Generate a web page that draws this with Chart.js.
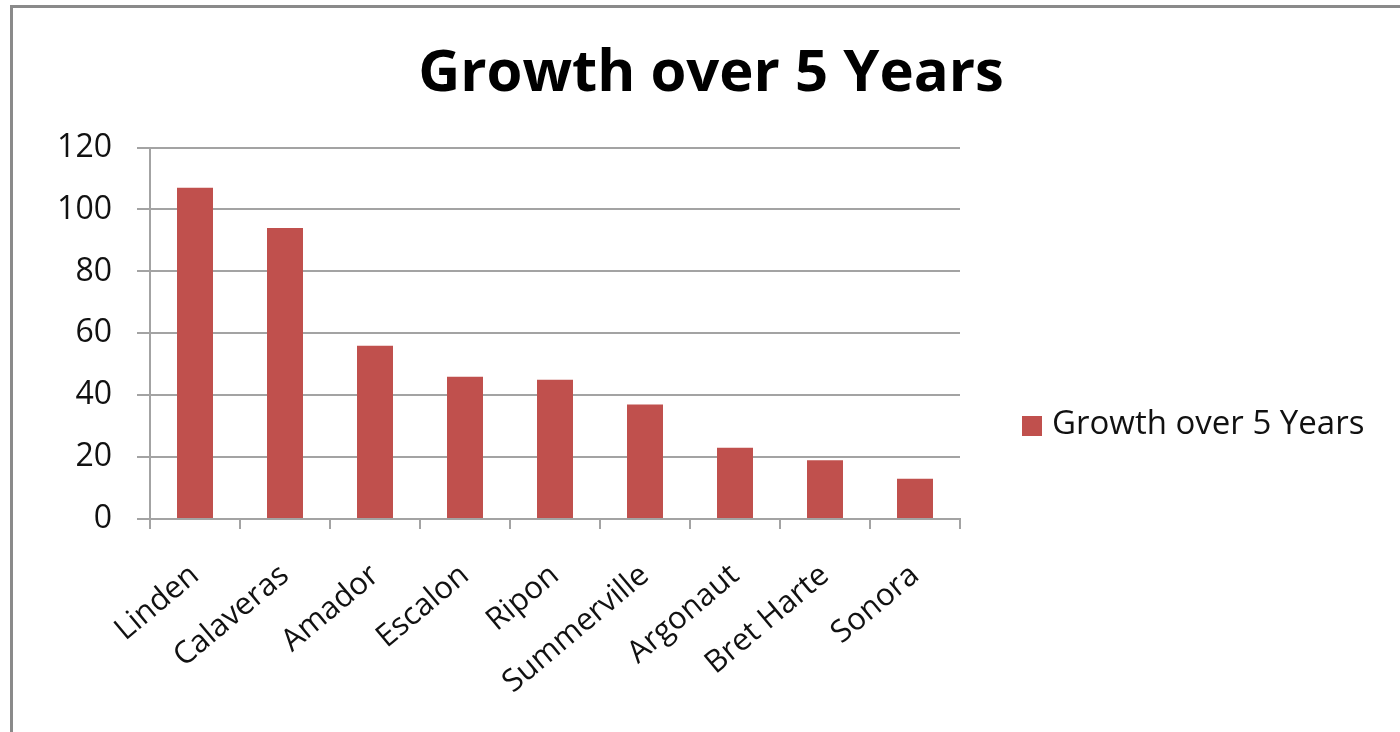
<!DOCTYPE html>
<html>
<head>
<meta charset="utf-8">
<title>Growth over 5 Years</title>
<script src="https://cdn.jsdelivr.net/npm/chart.js@4/dist/chart.umd.min.js"></script>
<style>
  html, body { margin: 0; padding: 0; background: #fff; }
  #wrap { position: relative; width: 1400px; height: 732px; overflow: hidden; }
  #frame {
    position: absolute; left: 10px; top: 5px; width: 1400px; height: 740px;
    border-left: 3px solid #8a8a8a; border-top: 3px solid #8a8a8a;
  }
  canvas { position: absolute; left: 0; top: 0; }
</style>
</head>
<body>
<div id="wrap">
  <div id="frame"></div>
  <canvas id="chart" width="1400" height="732"></canvas>
</div>
<script>
// chart data
const categories = ['Linden', 'Calaveras', 'Amador', 'Escalon', 'Ripon', 'Summerville', 'Argonaut', 'Bret Harte', 'Sonora'];
const growth = [107, 94, 56, 46, 45, 37, 23, 19, 13];
const seriesName = 'Growth over 5 Years';
const yMin = 0;
const yMax = 120;
const yStep = 20;

const barColor = '#C0504D';
const gridColor = '#a3a3a3';
const font = '"Open Sans", "Liberation Sans", sans-serif';

// right-hand box: keeps 440px free beside the plot and draws the legend in it
const sideLegend = {
  id: 'sideLegend',
  beforeInit(chart) {
    const box = {
      position: 'right',
      weight: 500,
      fullSize: false,
      options: {},
      isHorizontal() { return false; },
      update(maxWidth, maxHeight) {
        this.width = 440;
        this.height = maxHeight;
      },
      draw() {
        const ctx = chart.ctx;
        const ds = chart.data.datasets[0];
        ctx.save();
        ctx.fillStyle = ds.backgroundColor;
        ctx.fillRect(this.left + 62, 416, 20, 20);
        ctx.fillStyle = '#111';
        ctx.font = '33px ' + font;
        ctx.textBaseline = 'middle';
        ctx.textAlign = 'left';
        ctx.fillText(ds.label, this.left + 92, 425);
        ctx.restore();
      }
    };
    Chart.layouts.addBox(chart, box);
  }
};

const ctx = document.getElementById('chart').getContext('2d');
new Chart(ctx, {
  type: 'bar',
  data: {
    labels: categories,
    datasets: [{
      label: seriesName,
      data: growth,
      backgroundColor: barColor,
      categoryPercentage: 0.8,
      barPercentage: 0.5
    }]
  },
  options: {
    responsive: false,
    animation: false,
    layout: { padding: { left: 22, right: 0, top: 0, bottom: 0 } },
    plugins: {
      legend: { display: false },
      tooltip: { enabled: false },
      title: {
        display: true,
        text: seriesName,
        color: '#000',
        font: { family: font, size: 58, weight: 'bold' },
        padding: { top: 40, bottom: 38 }
      }
    },
    scales: {
      x: {
        grid: {
          display: true,
          offset: true,
          drawOnChartArea: false,
          drawTicks: true,
          tickLength: 10,
          color: gridColor,
          lineWidth: 2
        },
        border: { display: true, color: gridColor, width: 2 },
        ticks: {
          color: '#111',
          font: { family: font, size: 31 },
          minRotation: 40,
          maxRotation: 40,
          padding: 28,
          autoSkip: false
        },
        afterFit(scale) { scale.height = 213; }
      },
      y: {
        min: yMin,
        max: yMax,
        grid: {
          color: gridColor,
          lineWidth: 2,
          drawTicks: true,
          tickLength: 13
        },
        border: { display: true, color: gridColor, width: 2 },
        ticks: {
          stepSize: yStep,
          color: '#111',
          font: { family: font, size: 32 },
          padding: 25
        },
        afterFit(scale) { scale.width = 128; }
      }
    }
  },
  plugins: [sideLegend]
});
</script>
</body>
</html>
